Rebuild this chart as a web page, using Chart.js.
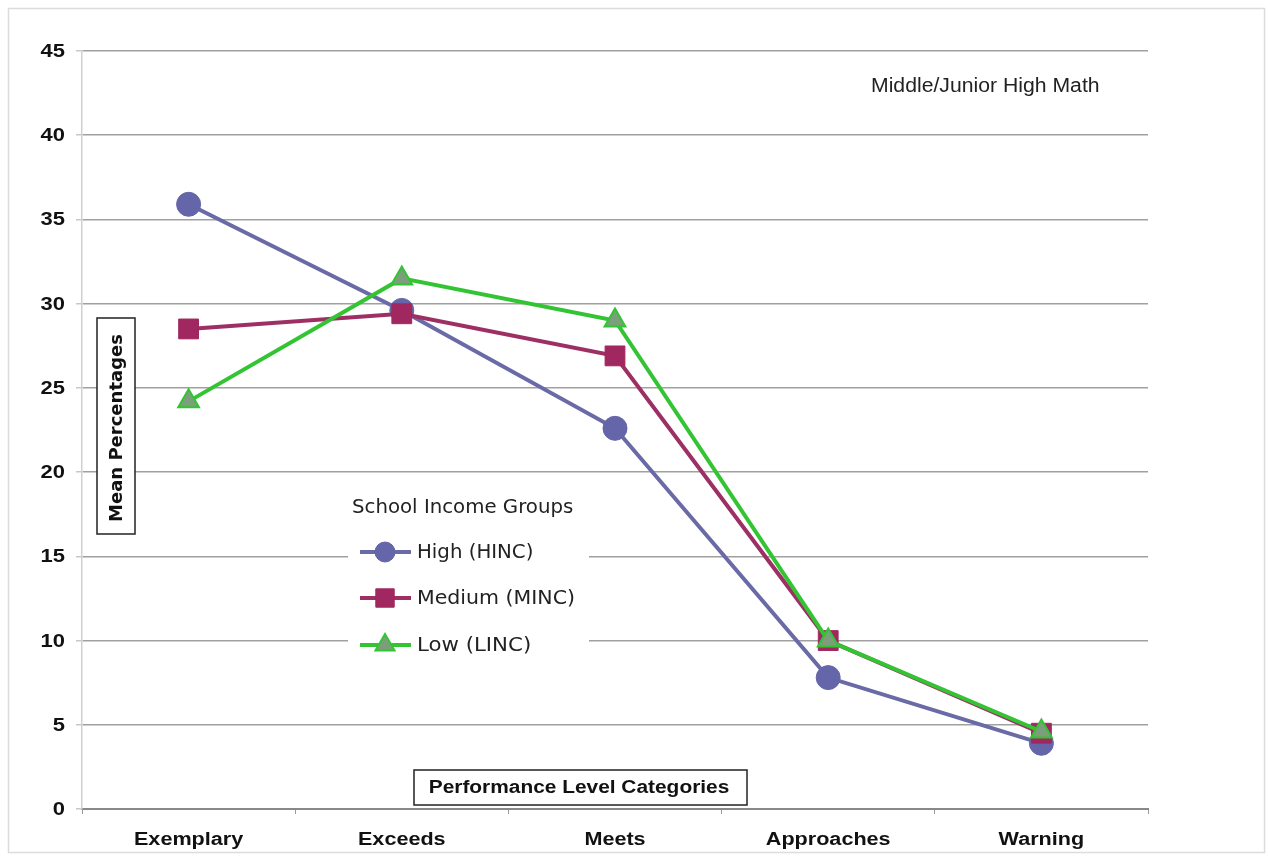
<!DOCTYPE html>
<html>
<head>
<meta charset="utf-8">
<script src="https://cdn.jsdelivr.net/npm/chart.js@4/dist/chart.umd.min.js"></script>
<style>
  html, body { margin: 0; padding: 0; background: #fff; }
  #wrap { position: relative; width: 1270px; height: 856px; }
  canvas { display: block; }
</style>
</head>
<body>
<div id="wrap"><canvas id="c" width="1270" height="856"></canvas></div>
<script>
// Performance level categories along the x axis
const categories = ['Exemplary', 'Exceeds', 'Meets', 'Approaches', 'Warning'];

// Mean percentage of students per performance level, by school income group
const highIncome   = [35.9, 29.6, 22.6, 7.8, 3.9];
const mediumIncome = [28.5, 29.4, 26.9, 10.0, 4.5];
const lowIncome    = [24.2, 31.5, 29.0, 10.0, 4.6];

// Y axis range and step
const yMin = 0, yMax = 45, yStep = 5;

const seriesNames = ['High (HINC)', 'Medium (MINC)', 'Low (LINC)'];
const legendTitle = 'School Income Groups';
const subtitle = 'Middle/Junior High Math';
const xTitle = 'Performance Level Categories';
const yTitle = 'Mean Percentages';

const FONT = '"Liberation Sans", Arial, sans-serif';
const LEG_FONT = '"DejaVu Sans", Verdana, sans-serif';

// Draw text with an optional horizontal stretch (the labels use a wide face)
function drawText(ctx, text, x, y, font, sx, align, color) {
  ctx.save();
  ctx.font = font;
  ctx.fillStyle = color || '#111';
  ctx.textBaseline = 'middle';
  ctx.textAlign = 'left';
  const w = ctx.measureText(text).width * sx;
  const x0 = align === 'center' ? x - w / 2 : align === 'right' ? x - w : x;
  ctx.translate(x0, y);
  ctx.scale(sx, 1);
  ctx.fillText(text, 0, 0);
  ctx.restore();
}

// Frame around the whole figure
const framePlugin = {
  id: 'frame',
  beforeDraw(chart) {
    const ctx = chart.ctx;
    ctx.save();
    ctx.fillStyle = '#fff';
    ctx.fillRect(0, 0, chart.width, chart.height);
    ctx.strokeStyle = '#dcdcdc';
    ctx.lineWidth = 1.5;
    ctx.strokeRect(8.5, 8.5, 1256, 844);
    ctx.restore();
  }
};

// Tick labels placed from the library's scales
const tickLabelsPlugin = {
  id: 'tickLabels',
  afterDraw(chart) {
    const ctx = chart.ctx;
    const xs = chart.scales.x, ys = chart.scales.y;
    categories.forEach((c, i) => {
      drawText(ctx, c, xs.getPixelForValue(i), 840, 'bold 18px ' + FONT, 1.2, 'center');
    });
    ys.ticks.forEach(t => {
      drawText(ctx, String(t.value), 65, ys.getPixelForValue(t.value) + 1, 'bold 18px ' + FONT, 1.22, 'right');
    });
  }
};

// Boxed axis titles, in-plot legend and chart subtitle
const annotationsPlugin = {
  id: 'annotations',
  beforeDatasetsDraw(chart) {
    const ctx = chart.ctx;
    ctx.save();
    ctx.fillStyle = '#fff';
    ctx.fillRect(348, 490, 241, 176);
    ctx.restore();
  },
  afterDraw(chart) {
    const ctx = chart.ctx;

    // Subtitle
    drawText(ctx, subtitle, 871, 86, '20px ' + FONT, 1.06, 'left', '#222');

    // X axis title box
    ctx.save();
    ctx.fillStyle = '#fff';
    ctx.fillRect(414, 770, 333, 35);
    ctx.strokeStyle = '#222';
    ctx.lineWidth = 1.5;
    ctx.strokeRect(414, 770, 333, 35);
    ctx.restore();
    drawText(ctx, xTitle, 579, 788, 'bold 18px ' + FONT, 1.16, 'center');

    // Y axis title box (rotated)
    ctx.save();
    ctx.fillStyle = '#fff';
    ctx.fillRect(97, 318, 38, 216);
    ctx.strokeStyle = '#222';
    ctx.lineWidth = 1.5;
    ctx.strokeRect(97, 318, 38, 216);
    ctx.translate(117, 428);
    ctx.rotate(-Math.PI / 2);
    ctx.fillStyle = '#111';
    ctx.font = 'bold 18px ' + LEG_FONT;
    ctx.textAlign = 'center';
    ctx.textBaseline = 'middle';
    ctx.fillText(yTitle, 0, 0);
    ctx.restore();

    // Legend
    drawText(ctx, legendTitle, 352, 508, '19px ' + LEG_FONT, 1.04, 'left', '#222');
    const rows = [552, 598, 645];
    chart.data.datasets.forEach((ds, i) => {
      const y = rows[i];
      ctx.save();
      ctx.strokeStyle = ds.borderColor;
      ctx.lineWidth = ds.borderWidth;
      ctx.beginPath();
      ctx.moveTo(360, y);
      ctx.lineTo(411, y);
      ctx.stroke();
      ctx.fillStyle = ds.pointBackgroundColor;
      ctx.strokeStyle = ds.pointBorderColor;
      ctx.lineWidth = ds.pointBorderWidth;
      Chart.helpers.drawPoint(ctx, {
        pointStyle: ds.pointStyle,
        radius: ds.legendRadius,
        borderWidth: ds.pointBorderWidth
      }, 385, y);
      ctx.restore();
      drawText(ctx, seriesNames[i], 417, y + 1, '19px ' + LEG_FONT, 1.04 + i * 0.04, 'left', '#222');
    });
  }
};

new Chart(document.getElementById('c'), {
  type: 'line',
  data: {
    labels: categories,
    datasets: [
      {
        label: seriesNames[0],
        data: highIncome,
        order: 3,
        borderColor: '#6a6aa6',
        borderWidth: 4,
        pointStyle: 'circle',
        pointRadius: 12,
        legendRadius: 10,
        pointBackgroundColor: '#6565a9',
        pointBorderColor: '#6565a9',
        pointBorderWidth: 1,
        tension: 0
      },
      {
        label: seriesNames[1],
        data: mediumIncome,
        order: 2,
        borderColor: '#9e2f64',
        borderWidth: 4,
        pointStyle: 'rect',
        pointRadius: 14,
        legendRadius: 13,
        pointBackgroundColor: '#a0275f',
        pointBorderColor: '#a0275f',
        pointBorderWidth: 1,
        tension: 0
      },
      {
        label: seriesNames[2],
        data: lowIncome,
        order: 1,
        borderColor: '#33c433',
        borderWidth: 4,
        pointStyle: 'triangle',
        pointRadius: 12,
        legendRadius: 11,
        pointBackgroundColor: '#7b9f7b',
        pointBorderColor: '#33c433',
        pointBorderWidth: 2,
        tension: 0
      }
    ]
  },
  options: {
    responsive: false,
    animation: false,
    devicePixelRatio: 1,
    layout: { padding: { left: 0, top: 51, right: 122, bottom: 0 } },
    plugins: {
      legend: { display: false },
      tooltip: { enabled: false }
    },
    scales: {
      x: {
        type: 'category',
        offset: true,
        grid: {
          display: true,
          offset: true,
          drawOnChartArea: false,
          color: '#999',
          lineWidth: 1,
          tickLength: 5,
          tickColor: '#999'
        },
        border: { display: true, color: '#888', width: 2 },
        ticks: { display: false },
        afterFit(scale) { scale.height = 47; }
      },
      y: {
        min: yMin,
        max: yMax,
        grid: {
          color: '#a0a0a0',
          lineWidth: 1.5,
          tickLength: 6,
          tickColor: '#c8c8c8'
        },
        border: { display: true, color: '#d0d0d0', width: 1.5 },
        ticks: { display: false, stepSize: yStep },
        afterFit(scale) { scale.width = 82; }
      }
    }
  },
  plugins: [framePlugin, tickLabelsPlugin, annotationsPlugin]
});
</script>
</body>
</html>
